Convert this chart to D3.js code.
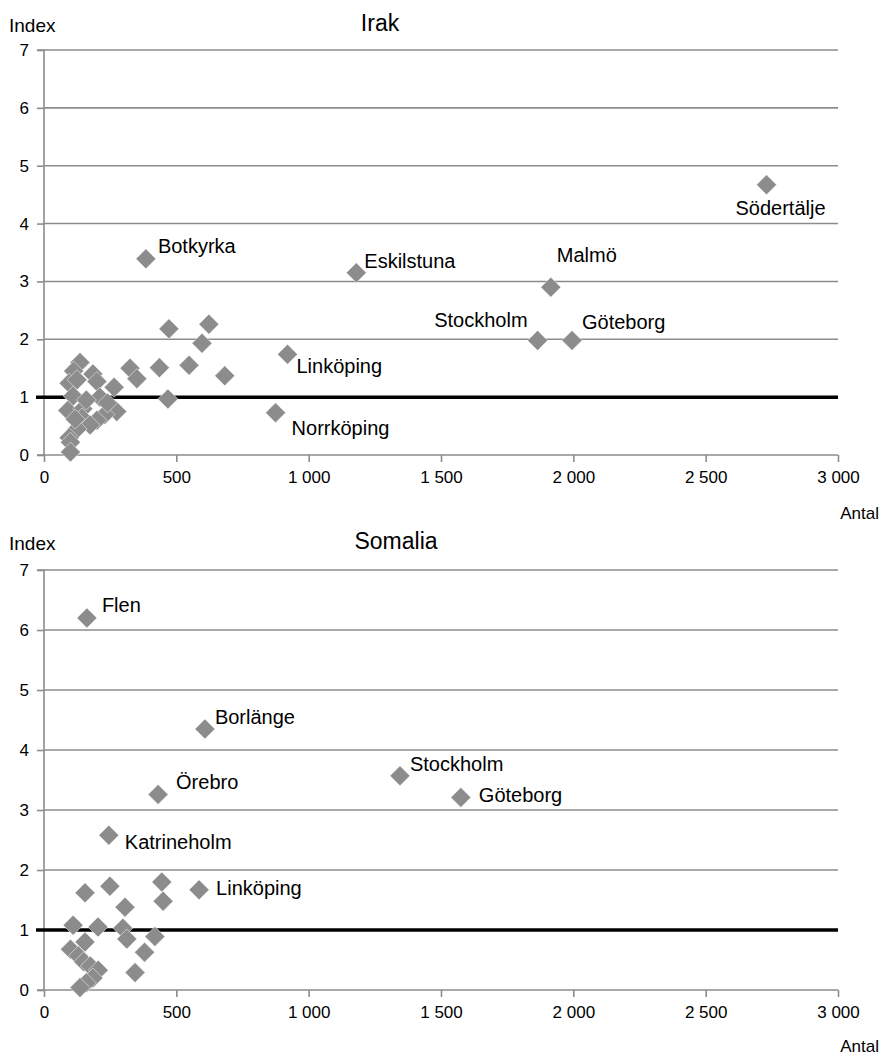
<!DOCTYPE html>
<html><head><meta charset="utf-8">
<script src="https://cdn.jsdelivr.net/npm/d3@7"></script>
<style>body{margin:0;background:#fff}svg{display:block;font-family:"Liberation Sans",Arial,sans-serif}</style>
</head><body>
<script>
// ---- data ----
const xTicks = [0, 500, 1000, 1500, 2000, 2500, 3000];
const yTicks = [0, 1, 2, 3, 4, 5, 6, 7];

const irakAntal = [2730, 385, 1180, 1915, 1865, 1995, 920, 875,
  472, 623, 597, 548, 436, 325, 351, 683, 468, 265, 275,
  136, 112, 95, 185, 200, 125, 110, 211, 90, 147, 230, 200, 144, 174, 125, 95, 100, 100, 160, 118, 240];
const irakIndex = [4.67, 3.39, 3.15, 2.90, 1.98, 1.98, 1.74, 0.73,
  2.18, 2.26, 1.93, 1.55, 1.51, 1.50, 1.32, 1.37, 0.97, 1.17, 0.75,
  1.60, 1.45, 1.24, 1.40, 1.27, 1.30, 1.02, 1.00, 0.77, 0.80, 0.70, 0.60, 0.64, 0.52, 0.45, 0.30, 0.22, 0.05, 0.95, 0.62, 0.90];
const irakNames = ["Södertälje", "Botkyrka", "Eskilstuna", "Malmö", "Stockholm", "Göteborg", "Linköping", "Norrköping"];

const somaliaAntal = [162, 608, 431, 1345, 1575, 245, 586,
  155, 249, 306, 445, 450, 110, 204, 298, 313, 419, 155, 380, 344, 100, 130, 150, 175, 205, 185, 160, 136];
const somaliaIndex = [6.20, 4.35, 3.26, 3.57, 3.21, 2.58, 1.67,
  1.62, 1.73, 1.38, 1.80, 1.48, 1.08, 1.05, 1.03, 0.85, 0.89, 0.80, 0.63, 0.29, 0.68, 0.57, 0.47, 0.40, 0.33, 0.20, 0.12, 0.04];
const somaliaNames = ["Flen", "Borlänge", "Örebro", "Stockholm", "Göteborg", "Katrineholm", "Linköping"];

// label placement (px offsets from marker)
const irakLabelPos = [[14, 25, "middle"], [12, -11, "start"], [8, -10, "start"], [6, -30, "start"],
  [-10, -19, "end"], [10, -17, "start"], [9, 13, "start"], [16, 17, "start"]];
const somaliaLabelPos = [[15, -11, "start"], [10, -10, "start"], [18, -11, "start"], [10, -10, "start"],
  [18, -1, "start"], [16, 9, "start"], [17, 0, "start"]];

const W = 881, H = 1059;
const svg = d3.select("body").append("svg").attr("width", W).attr("height", H);

function drawChart(cfg) {
  const g = svg.append("g");
  const x = d3.scaleLinear().domain([0, 3000]).range([44, 838]);
  const y = d3.scaleLinear().domain([0, 7]).range([cfg.y0, cfg.y7]);
  const grey = "#8c8c8c";

  g.selectAll(".grid").data(yTicks.filter(d => d > 0)).enter().append("line")
    .attr("x1", x(0)).attr("x2", x(3000))
    .attr("y1", d => y(d)).attr("y2", d => y(d))
    .attr("stroke", grey).attr("stroke-width", 1.6);

  const ya = d3.axisLeft(y).tickValues(yTicks).tickSize(7).tickPadding(8).tickFormat(d3.format("d"));
  const yg = g.append("g").attr("transform", `translate(${x(0)},0)`).call(ya);
  yg.select(".domain").attr("stroke", grey).attr("stroke-width", 1.6).attr("d", `M-7,${y(0)}H0V${y(7)}H-7`);
  yg.selectAll(".tick line").attr("stroke", grey).attr("stroke-width", 1.6);
  yg.selectAll("text").attr("font-size", 17).attr("fill", "#000").attr("font-family", "Liberation Sans, Arial, sans-serif");

  const fmt = d => d >= 1000 ? d3.format(",")(d).replace(",", " ") : String(d);
  const xa = d3.axisBottom(x).tickValues(xTicks).tickSize(7).tickPadding(9).tickFormat(fmt);
  const xg = g.append("g").attr("transform", `translate(0,${y(0)})`).call(xa);
  xg.select(".domain").attr("stroke", grey).attr("stroke-width", 1.6).attr("d", `M${x(0)},0H${x(3000)}`);
  xg.selectAll(".tick line").attr("stroke", grey).attr("stroke-width", 1.6);
  xg.selectAll("text").attr("font-size", 17).attr("fill", "#000").attr("font-family", "Liberation Sans, Arial, sans-serif");

  g.append("line").attr("x1", x(0) - 8).attr("x2", x(3000)).attr("y1", y(1)).attr("y2", y(1))
    .attr("stroke", "#000").attr("stroke-width", 3.5);

  const pts = cfg.xs.map((v, i) => ({ x: v, y: cfg.ys[i] }));
  const r = 10;
  g.selectAll(".pt").data(pts).enter().append("path")
    .attr("d", d => `M${x(d.x)},${y(d.y) - r}L${x(d.x) + r},${y(d.y)}L${x(d.x)},${y(d.y) + r}L${x(d.x) - r},${y(d.y)}Z`)
    .attr("fill", "#8c8c8c").attr("stroke", "#fff").attr("stroke-width", 0.5);

  cfg.names.forEach((n, i) => {
    const p = cfg.pos[i];
    g.append("text").attr("x", x(cfg.xs[i]) + p[0]).attr("y", y(cfg.ys[i]) + p[1])
      .attr("text-anchor", p[2]).attr("dominant-baseline", "middle")
      .attr("font-size", 20).attr("fill", "#000").text(n);
  });

  g.append("text").attr("x", 9).attr("y", cfg.titleY).attr("dominant-baseline", "middle")
    .attr("font-size", 19).text("Index");
  g.append("text").attr("x", cfg.titleX).attr("y", cfg.titleY - 2).attr("text-anchor", "middle")
    .attr("dominant-baseline", "middle").attr("font-size", 23).text(cfg.title);
  g.append("text").attr("x", 879).attr("y", cfg.antalY).attr("text-anchor", "end")
    .attr("dominant-baseline", "middle").attr("font-size", 17).text("Antal");
}

drawChart({ title: "Irak", titleX: 380, titleY: 27, y0: 455, y7: 50, antalY: 515,
  xs: irakAntal, ys: irakIndex, names: irakNames, pos: irakLabelPos });
drawChart({ title: "Somalia", titleX: 396, titleY: 545, y0: 990, y7: 570, antalY: 1048,
  xs: somaliaAntal, ys: somaliaIndex, names: somaliaNames, pos: somaliaLabelPos });
</script>
</body></html>
